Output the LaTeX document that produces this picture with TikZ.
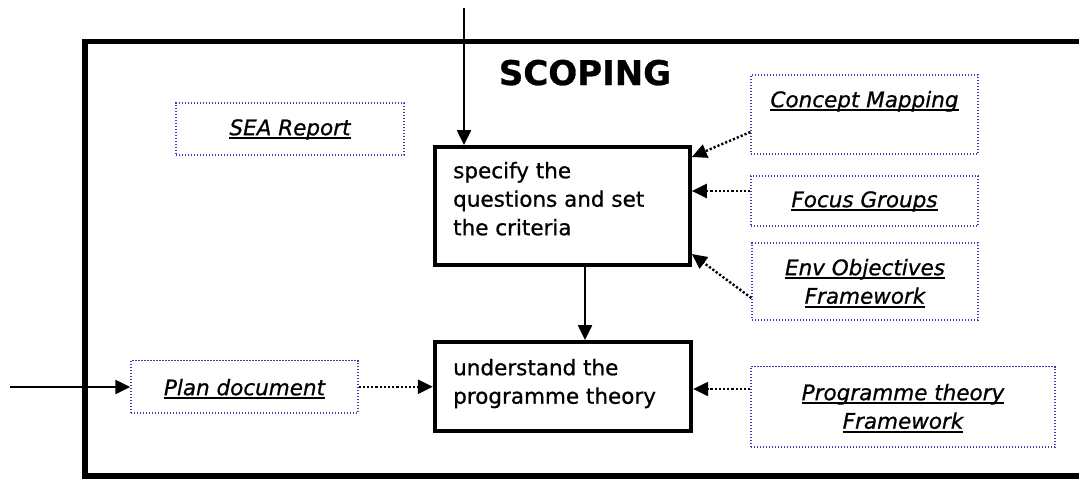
\documentclass[tikz,border=0pt]{standalone}
\usepackage{fontspec}
\setmainfont{DejaVu Sans}[RawFeature={embolden=0.8}]
\usetikzlibrary{arrows.meta}
\definecolor{dotblue}{RGB}{60,60,180}
\newsavebox\ulbox
\newcommand\ulab[1]{\sbox\ulbox{#1}\rlap{\rule[-3.8pt]{\wd\ulbox}{2pt}}\usebox\ulbox}
\newcommand\fst{\rule{0pt}{17pt}}
\begin{document}
\begin{tikzpicture}[x=1pt,y=-1pt,
  frame/.style={line width=5.5pt},
  mainbox/.style={draw, line width=3.8pt, inner sep=0pt},
  srcbox/.style={draw=dotblue, line width=1.3pt, dash pattern=on 1.3pt off 1.7pt, inner sep=0pt},
  bodytext/.style={inner sep=0pt, font=\fontsize{21.5}{28.5}\selectfont, align=left, anchor=north west},
  labtext/.style={inner sep=0pt, font=\fontsize{21.5}{28.5}\selectfont\itshape, align=center, anchor=north},
  titletext/.style={inner sep=0pt, font=\fontsize{34}{40}\selectfont\bfseries, anchor=base},
  flow/.style={line width=2.2pt, -{Triangle[length=15pt,width=14pt]}},
  feed/.style={line width=2.4pt, dash pattern=on 2.2pt off 2pt, -{Triangle[length=15pt,width=14pt]}},
]
\useasboundingbox (0,0) rectangle (1079,479);
\clip (0,0) rectangle (1079,479);
\fill[white] (0,0) rectangle (1079,479);

% outer frame
\draw[frame] (1090,41.5) -- (85,41.5) -- (85,476) -- (1090,476);
\node[titletext] (title) at (585,85) {SCOPING};

% main boxes
\node[mainbox, minimum width=255.3pt, minimum height=118pt] (b1) at (562.3,206) {};
\node[mainbox, minimum width=256.6pt, minimum height=89pt] (b2) at (563,386.5) {};
\node[bodytext] (t1) at (453,161) {\fst specify the\\questions and set\\the criteria};
\node[bodytext] (t2) at (453,358) {\fst understand the\\programme theory};

% source boxes
\node[srcbox, minimum width=228pt, minimum height=52pt] (sea) at (290,129) {};
\node[srcbox, minimum width=227pt, minimum height=79pt] (concept) at (864.5,114.5) {};
\node[srcbox, minimum width=227pt, minimum height=50pt] (focus) at (864.5,201) {};
\node[srcbox, minimum width=226pt, minimum height=77pt] (env) at (865,281.5) {};
\node[srcbox, minimum width=304pt, minimum height=80.5pt] (prog) at (903,406.75) {};
\node[srcbox, minimum width=227pt, minimum height=52.5pt] (plan) at (244.5,386.75) {};

\node[labtext] (lsea) at (290,118) {\fst\ulab{SEA Report}};
\node[labtext] (lconcept) at (864.5,90) {\fst\ulab{Concept Mapping}};
\node[labtext] (lfocus) at (864.5,190) {\fst\ulab{Focus Groups}};
\node[labtext] (lenv) at (865,258) {\fst\ulab{Env Objectives}\\\ulab{Framework}};
\node[labtext] (lprog) at (903,383) {\fst\ulab{Programme theory}\\\ulab{Framework}};
\node[labtext] (lplan) at (244.5,378) {\fst\ulab{Plan document}};

% connectors
\coordinate (topin) at (464,8);
\coordinate (leftin) at (10,387);
\draw[flow] (topin) -- (topin |- b1.north);
\draw[flow] ([xshift=22.7pt]b1.south) -- ([xshift=22.7pt]b1.south |- b2.north);
\draw[flow] (leftin) -- (leftin -| plan.west);
\draw[feed] (plan.east) -- (plan.east -| b2.west);
\draw[feed] ([yshift=-17.5pt]concept.west) -- ([yshift=49pt]b1.east);
\draw[feed] ([yshift=10pt]focus.west) -- ([yshift=15pt]b1.east);
\draw[feed] ([yshift=-16.5pt]env.west) -- ([yshift=-48pt]b1.east);
\draw[feed] ([yshift=17.75pt]prog.west) -- ([yshift=-2.5pt]b2.east);
\end{tikzpicture}
\end{document}
